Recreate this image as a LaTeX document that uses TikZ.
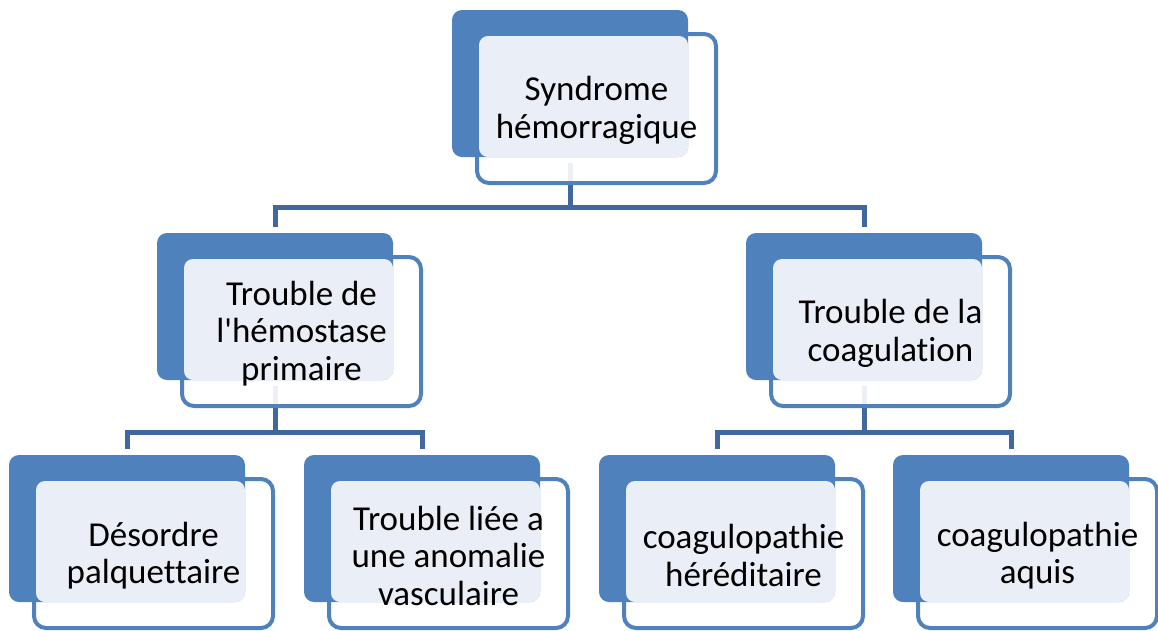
\documentclass[tikz,border=0pt]{standalone}
\usepackage{fontspec}
\newfontfamily\carl{Carlito}[Ligatures={NoCommon}]
\usetikzlibrary{backgrounds}
\definecolor{acc}{RGB}{79,129,189}
\definecolor{connc}{RGB}{64,104,158}
\definecolor{lite}{RGB}{234,239,247}
\tikzset{
  darkbox/.style={fill=acc, draw=none, rounded corners=10pt, minimum width=236pt, minimum height=147pt, anchor=north west, inner sep=0pt, outer sep=0pt},
  whitebox/.style={fill=white, fill opacity=0.9, draw=acc, line width=4pt, rounded corners=12pt, minimum width=239pt, minimum height=149pt, anchor=north west, inner sep=0pt, outer sep=0pt},
  litebox/.style={fill=lite, draw=none, rounded corners=9pt, minimum width=209pt, minimum height=121pt, anchor=north west, inner sep=0pt, outer sep=0pt},
  txt/.style={align=center, inner sep=0pt, text=black, yshift=-2pt, font=\carl\fontsize{35pt}{37.5pt}\selectfont},
  connline/.style={draw=connc, line width=5pt}
}
\newcommand\mkbox[4]{%
  \node[whitebox] (#1w) at (#2+25,#3+24) {};
  \node[darkbox] (#1d) at (#2,#3) {};
  \node[litebox] (#1l) at (#2+27,#3+26) {};
  \node[txt] (#1) at (#1w.center) {#4};
}
\begin{document}
\begin{tikzpicture}[x=1pt,y=-1pt]
\useasboundingbox (0,0) rectangle (1158,630);
\mkbox{A}{452}{10}{Syndrome\\hémorragique}
\mkbox{B}{157}{233}{Trouble de\\l'hémostase\\primaire}
\mkbox{C}{746}{233}{Trouble de la\\coagulation}
\mkbox{D}{9}{455}{Désordre\\palquettaire}
\mkbox{E}{304}{455}{Trouble liée a\\une anomalie\\vasculaire}
\mkbox{F}{599}{455}{coagulopathie\\héréditaire}
\mkbox{G}{893}{455}{coagulopathie\\aquis}
\coordinate (bar1) at (0,207.5);
\coordinate (bar2) at (0,432.5);
\begin{scope}[on background layer]
  \draw[connline, shorten <=6pt] (Ad.south) -- (Ad.south |- bar1);
  \draw[connline, shorten >=6pt] (Ad.south |- bar1) -| (Bd.north);
  \draw[connline, shorten >=6pt] (Ad.south |- bar1) -| (Cd.north);
  \draw[connline, shorten <=6pt] (Bd.south) -- (Bd.south |- bar2);
  \draw[connline, shorten >=6pt] (Bd.south |- bar2) -| (Dd.north);
  \draw[connline, shorten >=6pt] (Bd.south |- bar2) -| (Ed.north);
  \draw[connline, shorten <=6pt] (Cd.south) -- (Cd.south |- bar2);
  \draw[connline, shorten >=6pt] (Cd.south |- bar2) -| (Fd.north);
  \draw[connline, shorten >=6pt] (Cd.south |- bar2) -| (Gd.north);
\end{scope}
\end{tikzpicture}
\end{document}
